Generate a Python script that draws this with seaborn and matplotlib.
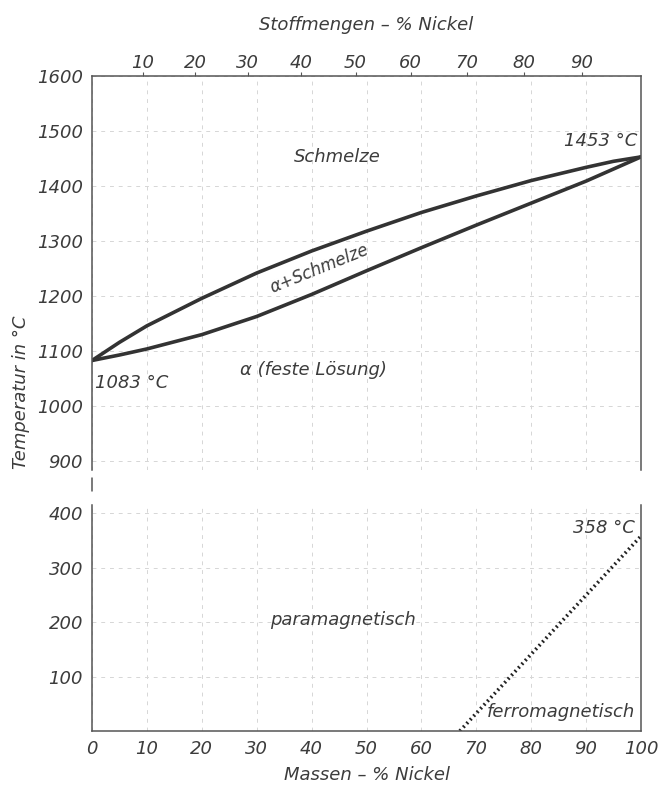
import matplotlib
matplotlib.use("Agg")
import matplotlib.pyplot as plt
import seaborn as sns
import numpy as np
import pandas as pd
from matplotlib.lines import Line2D

# ---- data ----
mass_pct = [0, 5, 10, 20, 30, 40, 50, 60, 70, 80, 90, 95, 100]
liquidus = [1083, 1116, 1146, 1196, 1242, 1282, 1318, 1352, 1382, 1410, 1434, 1445, 1453]
solidus = [1083, 1093, 1104, 1130, 1163, 1203, 1246, 1288, 1329, 1369, 1409, 1431, 1453]
curie_x = [67, 100]
curie_t = [0, 358]
mass_ticks = [0, 10, 20, 30, 40, 50, 60, 70, 80, 90, 100]
mol_ticks = [10, 20, 30, 40, 50, 60, 70, 80, 90]
upper_yticks = [900, 1000, 1100, 1200, 1300, 1400, 1500, 1600]
lower_yticks = [100, 200, 300, 400]
M_CU, M_NI = 63.55, 58.69

sns.set_theme(style="white")
plt.rcParams['font.family'] = ['DejaVu Sans']
plt.rcParams['font.style'] = 'italic'
TXT = '#3c3c3c'
LINE = '#333333'
GRID = '#d6d6d6'
FS = 13

fig = plt.figure(figsize=(6.58, 7.91), dpi=100)
L, R = 92 / 658, 641 / 658
ax_u = fig.add_axes([L, 1 - 470 / 791, R - L, (470 - 76) / 791])
ax_l = fig.add_axes([L, 1 - 731 / 791, R - L, (731 - 505) / 791])

df_liq = pd.DataFrame({'x': mass_pct, 'T': liquidus})
df_sol = pd.DataFrame({'x': mass_pct, 'T': solidus})
df_cur = pd.DataFrame({'x': curie_x, 'T': curie_t})

sns.lineplot(data=df_liq, x='x', y='T', ax=ax_u, color=LINE, lw=2.6)
sns.lineplot(data=df_sol, x='x', y='T', ax=ax_u, color=LINE, lw=2.6)
sns.lineplot(data=df_cur, x='x', y='T', ax=ax_l, color='#222222', lw=2.6,
             linestyle=(0, (0.5, 0.9)))

for ax in (ax_u, ax_l):
    ax.set_xlim(0, 100)
    ax.set_xticks(mass_ticks)
    ax.grid(True, color=GRID, linestyle=(0, (4, 5)), lw=0.7)
    for s in ax.spines.values():
        s.set_color('#555555')
        s.set_linewidth(1.1)
    ax.tick_params(colors='#555555', labelcolor=TXT, labelsize=FS, length=3, width=0.8)
    ax.set_xlabel('')
    ax.set_ylabel('')

ax_u.set_ylim(884, 1600)
ax_u.set_yticks(upper_yticks)
ax_u.spines['bottom'].set_visible(False)
ax_u.tick_params(axis='x', bottom=False, labelbottom=False)

ax_l.set_ylim(0, 415)
ax_l.set_yticks(lower_yticks)
ax_l.spines['top'].set_visible(False)
ax_l.set_xticks(mass_ticks)
ax_l.set_xticklabels([str(v) for v in mass_ticks], fontstyle='italic', color=TXT, fontsize=FS)
ax_l.set_yticklabels([str(v) for v in lower_yticks], fontstyle='italic', color=TXT, fontsize=FS)
ax_u.set_yticklabels([str(v) for v in upper_yticks], fontstyle='italic', color=TXT, fontsize=FS)


def mass_to_mol(w):
    w = np.clip(np.asarray(w, dtype=float), 1e-9, 100 - 1e-9)
    n_ni = w / M_NI
    n_cu = (100 - w) / M_CU
    return 100 * n_ni / (n_ni + n_cu)


def mol_to_mass(x):
    x = np.clip(np.asarray(x, dtype=float), 1e-9, 100 - 1e-9)
    m_ni = x * M_NI
    m_cu = (100 - x) * M_CU
    return 100 * m_ni / (m_ni + m_cu)


sec = ax_u.secondary_xaxis('top', functions=(mass_to_mol, mol_to_mass))
sec.set_xticks(mol_ticks)
sec.set_xticklabels([str(v) for v in mol_ticks], fontstyle='italic', color=TXT, fontsize=FS)
sec.tick_params(colors='#555555', labelcolor=TXT, length=3, width=0.8, pad=0)
sec.spines['top'].set_visible(False)
sec.set_xlabel('Stoffmengen – % Nickel', fontsize=FS, color=TXT, fontstyle='italic', labelpad=17)

# region labels
ax_u.text(44.6, 1453, 'Schmelze', fontsize=FS, color=TXT, style='italic', ha='center', va='center')
ax_u.text(41.5, 1250, 'α+Schmelze', fontsize=FS - 1, color=TXT, style='italic',
          ha='center', va='center', rotation=22)
ax_u.text(40.3, 1066, 'α (feste Lösung)', fontsize=FS, color=TXT, style='italic',
          ha='center', va='center')
ax_u.text(0.6, 1042, '1083 °C', fontsize=FS, color=TXT, style='italic', ha='left', va='center')
ax_u.text(99.3, 1482, '1453 °C', fontsize=FS, color=TXT, style='italic', ha='right', va='center')
ax_l.text(98.8, 372, '358 °C', fontsize=FS, color=TXT, style='italic', ha='right', va='center')
ax_l.text(45.7, 204, 'paramagnetisch', fontsize=FS, color=TXT, style='italic', ha='center', va='center')
ax_l.text(85.4, 35, 'ferromagnetisch', fontsize=FS, color=TXT, style='italic', ha='center', va='center')

ax_l.set_xlabel('Massen – % Nickel', fontsize=FS, color=TXT, fontstyle='italic', labelpad=6)
fig.text(0.032, 1 - 392 / 791, 'Temperatur in °C', rotation=90, fontsize=FS, color=TXT,
         style='italic', ha='center', va='center')

# axis break mark
fig.add_artist(Line2D([L, L], [1 - 478 / 791, 1 - 491 / 791], color='#555555', lw=1.1))

fig.savefig('out.png', dpi=100)
